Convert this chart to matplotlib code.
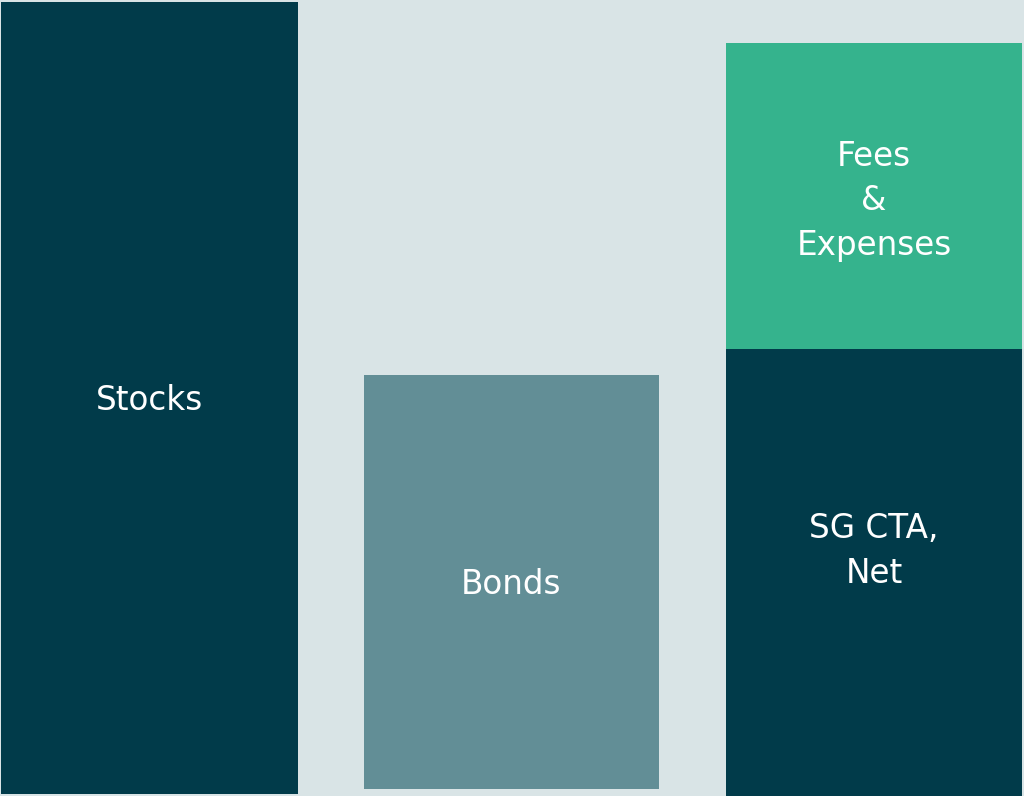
import matplotlib
matplotlib.use("Agg")
import matplotlib.pyplot as plt

# Data (in chart units, axis spans 0..796)
categories = ["Stocks", "Bonds", "SG CTA,\nNet"]
bar_bottoms = [2, 7, -1]
bar_heights = [792, 414, 448]
fees_label = "Fees\n&\nExpenses"
fees_bottom = 447
fees_height = 306
label_y = [396, 212, 245]
fees_label_y = 595

dark = "#013b4a"
bonds_col = "#628e96"
green = "#35b38d"
bg = "#d9e4e6"

fig = plt.figure(figsize=(10.24, 7.96), dpi=100)
fig.patch.set_facecolor(bg)
ax = fig.add_axes([0, 0, 1, 1])
ax.set_facecolor(bg)

x = [149, 511.5, 874]
widths = [297, 295, 296]
colors = [dark, bonds_col, dark]
ax.bar(x, bar_heights, width=widths, bottom=bar_bottoms, color=colors, linewidth=0)
ax.bar(x[2], fees_height, width=widths[2], bottom=fees_bottom, color=green, linewidth=0)

ax.set_xlim(0, 1024)
ax.set_ylim(0, 796)
ax.axis("off")

for xi, lab, ly in zip(x, categories, label_y):
    ax.text(xi, ly, lab, ha="center", va="center", color="white", fontsize=23.5,
            family="DejaVu Sans", linespacing=1.45)
ax.text(x[2], fees_label_y, fees_label, ha="center", va="center", color="white", fontsize=23.5,
        family="DejaVu Sans", linespacing=1.45)

fig.savefig("out.png", dpi=100, facecolor=bg)
